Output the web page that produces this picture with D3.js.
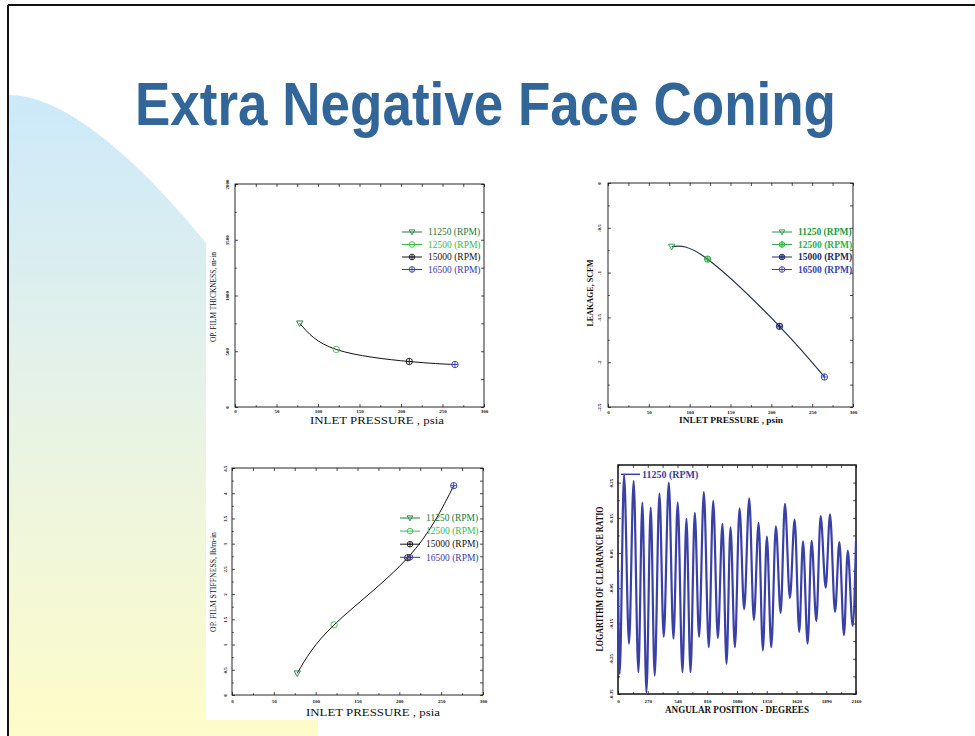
<!DOCTYPE html>
<html>
<head>
<meta charset="utf-8">
<script src="https://cdn.jsdelivr.net/npm/d3@7"></script>
<style>
body { margin: 0; background: #fff; }
svg { display: block; }
</style>
</head>
<body>
<svg id="slide" width="975" height="736"></svg>
<script>
// ---- data ----
var rpmLabels = ['11250 (RPM)', '12500 (RPM)', '15000 (RPM)', '16500 (RPM)'];
var inletPressure = [78, 122, 210, 265];
var filmThickness = [750, 516, 408, 381];
var leakage = [-0.71, -0.85, -1.60, -2.165];
var filmStiffness = [0.43, 1.39, 2.72, 4.15];

var angularPosition = [0, 15, 55, 100, 142, 185, 221, 258, 297, 333, 376, 415, 461, 503, 542, 585,
  621, 658, 697, 736, 779, 824, 864, 906, 948, 985, 1021, 1061, 1103, 1145, 1191, 1233, 1276,
  1315, 1351, 1391, 1433, 1476, 1515, 1560, 1603, 1645, 1679, 1721, 1757, 1800, 1839, 1885,
  1924, 1970, 2009, 2051, 2085, 2130, 2160];
var clearanceLog = [0.002, -0.293, 0.272, -0.207, 0.255, -0.288, 0.193, -0.345, 0.179, -0.298,
  0.219, -0.188, 0.25, -0.193, 0.193, -0.288, 0.147, -0.288, 0.164, -0.188, 0.223, -0.217,
  0.198, -0.191, 0.133, -0.264, 0.123, -0.217, 0.177, -0.109, 0.205, -0.140, 0.136, -0.226,
  0.097, -0.217, 0.126, -0.120, 0.190, -0.077, 0.145, -0.174, 0.083, -0.207, 0.085, -0.143,
  0.155, -0.048, 0.160, -0.117, 0.081, -0.183, 0.057, -0.157, 0.085];

var pressureTicks = [0, 50, 100, 150, 200, 250, 300];
var thicknessTicks = [0, 500, 1000, 1500, 2000];
var leakageTicks = [0, -0.5, -1, -1.5, -2, -2.5];
var stiffnessTicks = [0, 0.5, 1, 1.5, 2, 2.5, 3, 3.5, 4, 4.5];
var angleTicks = [0, 270, 540, 810, 1080, 1350, 1620, 1890, 2160];
var clearanceTicks = [-0.35, -0.25, -0.15, -0.05, 0.05, 0.15, 0.25];

var svg = d3.select('#slide');
var serif = '"Liberation Serif", "Times New Roman", serif';

// ---- slide background ----
var defs = svg.append('defs');
var grad = defs.append('linearGradient').attr('id', 'bg').attr('gradientUnits', 'userSpaceOnUse')
  .attr('x1', 0).attr('y1', 95).attr('x2', 0).attr('y2', 736);
grad.append('stop').attr('offset', '0').attr('stop-color', '#cce9fa');
grad.append('stop').attr('offset', '0.45').attr('stop-color', '#e5f2e8');
grad.append('stop').attr('offset', '1').attr('stop-color', '#fefcc8');

svg.append('path')
  .attr('d', 'M9,95 C60,95 140,150 250,300 L318,400 L318,736 L9,736 Z')
  .attr('fill', 'url(#bg)');
svg.append('rect').attr('x', 206).attr('y', 160).attr('width', 330).attr('height', 560).attr('fill', '#fff');

svg.append('line').attr('x1', 8).attr('x2', 975).attr('y1', 5).attr('y2', 5).attr('stroke', '#111').attr('stroke-width', 2);
svg.append('line').attr('x1', 8).attr('x2', 8).attr('y1', 5).attr('y2', 736).attr('stroke', '#111').attr('stroke-width', 2);

svg.append('text')
  .attr('x', 135).attr('y', 125)
  .attr('textLength', 701).attr('lengthAdjust', 'spacingAndGlyphs')
  .style('font-family', '"Liberation Sans", Arial, sans-serif')
  .style('font-weight', 'bold').style('font-size', '62px')
  .attr('fill', '#326699')
  .text('Extra Negative Face Coning');

// ---- helpers ----
var midpoints = function(arr) {
  var out = [];
  for (var i = 1; i < arr.length; i++) out.push((arr[i - 1] + arr[i]) / 2);
  return out;
};

var marker = function(g, kind, cx, cy, color, r) {
  var m = g.append('g').attr('transform', 'translate(' + cx + ',' + cy + ')')
    .attr('fill', 'none').attr('stroke', color).attr('stroke-width', 0.9);
  if (kind === 'tri') {
    m.append('path').attr('d', 'M' + (-r) + ',' + (-r * 0.75) + 'L' + r + ',' + (-r * 0.75) + 'L0,' + r + 'Z');
  } else {
    var c = m.append('circle').attr('r', r);
    if (kind === 'dot') c.attr('fill', color).attr('fill-opacity', 0.45);
    if (kind === 'plus' || kind === 'dot') {
      m.append('path').attr('d', 'M' + (-r) + ',0H' + r + 'M0,' + (-r) + 'V' + r);
    }
  }
};

var panel = function(o) {
  var x = d3.scaleLinear().domain(o.xDomain).range([o.l, o.r]);
  var y = d3.scaleLinear().domain(o.yDomain).range([o.b, o.t]);
  var g = svg.append('g');
  var tick = o.tick || 3;

  g.append('g').attr('transform', 'translate(0,' + o.b + ')')
    .call(d3.axisBottom(x).tickValues(o.xTicks).tickSizeInner(-tick).tickSizeOuter(0)
      .tickPadding(o.xPad).tickFormat(function(d) { return String(d); }));
  g.append('g').attr('transform', 'translate(0,' + o.b + ')')
    .call(d3.axisBottom(x).tickValues(midpoints(o.xTicks)).tickSizeInner(-tick * 0.6).tickSizeOuter(0).tickFormat(''));
  g.append('g').attr('transform', 'translate(0,' + o.t + ')')
    .call(d3.axisTop(x).tickValues(o.xTicks.concat(midpoints(o.xTicks))).tickSizeInner(-tick).tickSizeOuter(0).tickFormat(''));
  var left = g.append('g').attr('transform', 'translate(' + o.l + ',0)')
    .call(d3.axisLeft(y).tickValues(o.yTicks).tickSizeInner(-tick).tickSizeOuter(0)
      .tickFormat(function(d) { return String(d); }));
  g.append('g').attr('transform', 'translate(' + o.l + ',0)')
    .call(d3.axisLeft(y).tickValues(midpoints(o.yTicks)).tickSizeInner(-tick * 0.6).tickSizeOuter(0).tickFormat(''));
  g.append('g').attr('transform', 'translate(' + o.r + ',0)')
    .call(d3.axisRight(y).tickValues(o.yTicks.concat(midpoints(o.yTicks))).tickSizeInner(-tick).tickSizeOuter(0).tickFormat(''));
  if (o.yMinor) {
    g.append('g').attr('transform', 'translate(' + o.l + ',0)')
      .call(d3.axisLeft(y).tickValues(o.yMinor).tickSizeInner(-tick * 0.6).tickSizeOuter(0).tickFormat(''));
  }

  g.selectAll('.domain').remove();
  g.selectAll('.tick line').attr('stroke', '#222').attr('stroke-width', 0.8);
  g.selectAll('.tick text').attr('fill', '#111')
    .style('font-family', serif).style('font-weight', 'bold').style('font-size', o.tickFont + 'px');
  left.selectAll('.tick text')
    .attr('transform', 'rotate(-90)').attr('x', 0).attr('y', -o.yPad).attr('dy', 0)
    .attr('text-anchor', 'middle');

  g.append('rect').attr('x', o.l).attr('y', o.t).attr('width', o.r - o.l).attr('height', o.b - o.t)
    .attr('fill', 'none').attr('stroke', '#111').attr('stroke-width', o.frameWidth || 0.9);

  g.append('text')
    .attr('x', o.xTitle.cx).attr('y', o.xTitle.y).attr('text-anchor', 'middle')
    .attr('textLength', o.xTitle.w).attr('lengthAdjust', 'spacingAndGlyphs')
    .style('font-family', serif).style('font-size', o.xTitle.size + 'px')
    .style('font-weight', o.bold ? 'bold' : 'normal').attr('fill', '#111')
    .text(o.xTitle.text);
  g.append('text')
    .attr('transform', 'translate(' + o.yTitle.x + ',' + o.yTitle.cy + ') rotate(-90)')
    .attr('text-anchor', 'middle')
    .attr('textLength', o.yTitle.w).attr('lengthAdjust', 'spacingAndGlyphs')
    .style('font-family', serif).style('font-size', o.yTitle.size + 'px')
    .style('font-weight', o.bold ? 'bold' : 'normal').attr('fill', '#111')
    .text(o.yTitle.text);

  return { g: g, x: x, y: y };
};

var seriesPanel = function(o, ys) {
  var p = panel(o);
  var pts = d3.zip(inletPressure, ys);
  var line = d3.line().x(function(d) { return p.x(d[0]); }).y(function(d) { return p.y(d[1]); })
    .curve(d3.curveNatural);
  p.g.append('path').attr('d', line(pts)).attr('fill', 'none')
    .attr('stroke', o.lineColor).attr('stroke-width', o.lineWidth);
  pts.forEach(function(d, i) {
    marker(p.g, o.shapes[i], p.x(d[0]), p.y(d[1]), o.colors[i], 3.2);
  });
  rpmLabels.forEach(function(lab, i) {
    var ly = o.leg.y + i * o.leg.dy;
    p.g.append('line').attr('x1', o.leg.x).attr('x2', o.leg.x + 20).attr('y1', ly).attr('y2', ly)
      .attr('stroke', o.colors[i]).attr('stroke-width', 1);
    marker(p.g, o.shapes[i], o.leg.x + 10, ly, o.colors[i], 2.8);
    p.g.append('text').attr('x', o.leg.x + 26).attr('y', ly + 3.2)
      .style('font-family', serif).style('font-size', o.leg.size + 'px')
      .style('font-weight', o.bold ? 'bold' : 'normal')
      .attr('fill', o.colors[i]).text(lab);
  });
};

// ---- top-left: film thickness ----
seriesPanel({
  l: 235, r: 484, t: 184, b: 407,
  xDomain: [0, 300], yDomain: [0, 2000], xTicks: pressureTicks, yTicks: thicknessTicks,
  xPad: 2.5, yPad: 6.5, tickFont: 5,
  xTitle: { text: 'INLET PRESSURE , psia', cx: 377, y: 424, w: 134, size: 10 },
  yTitle: { text: 'OP. FILM THICKNESS, m-in', x: 216, cy: 297, w: 90, size: 9 },
  lineColor: '#111', lineWidth: 1,
  colors: ['#1e7a3c', '#3dbb47', '#151515', '#3a3aa8'],
  shapes: ['tri', 'circle', 'plus', 'plus'],
  leg: { x: 402, y: 232, dy: 12.5, size: 9.5 }
}, filmThickness);

// ---- top-right: leakage ----
seriesPanel({
  l: 608, r: 853, t: 183, b: 407,
  xDomain: [0, 300], yDomain: [-2.5, 0], xTicks: pressureTicks, yTicks: leakageTicks,
  xPad: 3, yPad: 7, tickFont: 5, bold: true,
  xTitle: { text: 'INLET PRESSURE , psin', cx: 731, y: 423, w: 104, size: 9 },
  yTitle: { text: 'LEAKAGE, SCFM', x: 593, cy: 293, w: 67, size: 9 },
  lineColor: '#263646', lineWidth: 1.2,
  colors: ['#1c9a3e', '#2fb04a', '#1c2a6e', '#3444b4'],
  shapes: ['tri', 'dot', 'dot', 'plus'],
  leg: { x: 772, y: 232, dy: 12.5, size: 9.5 }
}, leakage);

// ---- bottom-left: film stiffness ----
seriesPanel({
  l: 232, r: 483, t: 468, b: 695,
  xDomain: [0, 300], yDomain: [0, 4.5], xTicks: pressureTicks, yTicks: stiffnessTicks,
  xPad: 4.5, yPad: 5.5, tickFont: 5,
  xTitle: { text: 'INLET PRESSURE , psia', cx: 373, y: 716, w: 134, size: 10 },
  yTitle: { text: 'OP. FILM STIFFNESS, lb/m-in', x: 216, cy: 582, w: 100, size: 9 },
  lineColor: '#111', lineWidth: 1,
  colors: ['#1e7a3c', '#3dbb47', '#151515', '#3a3aa8'],
  shapes: ['tri', 'circle', 'plus', 'plus'],
  leg: { x: 400, y: 518, dy: 13.1, size: 9.5 }
}, filmStiffness);

// ---- bottom-right: clearance ratio ----
var p4 = panel({
  l: 618, r: 856, t: 465, b: 694,
  xDomain: [0, 2160], yDomain: [-0.35, 0.30], xTicks: angleTicks, yTicks: clearanceTicks,
  yMinor: [-0.30, 0.30],
  xPad: 5, yPad: 5.5, tickFont: 5, bold: true, frameWidth: 1.5,
  xTitle: { text: 'ANGULAR POSITION - DEGREES', cx: 737, y: 713, w: 144, size: 9.5 },
  yTitle: { text: 'LOGARITHM OF CLEARANCE RATIO', x: 603, cy: 579, w: 145, size: 10 }
});
var wave = d3.line()
  .x(function(d) { return p4.x(d[0]); })
  .y(function(d) { return p4.y(d[1]); })
  .curve(d3.curveMonotoneX);
p4.g.append('path').attr('d', wave(d3.zip(angularPosition, clearanceLog)))
  .attr('fill', 'none').attr('stroke', '#3a40a6').attr('stroke-width', 2.2)
  .attr('stroke-linejoin', 'round');
p4.g.append('line').attr('x1', 621).attr('x2', 640).attr('y1', 474.3).attr('y2', 474.3)
  .attr('stroke', '#3a40a6').attr('stroke-width', 1.5);
p4.g.append('text').attr('x', 642).attr('y', 477.8)
  .style('font-family', serif).style('font-weight', 'bold').style('font-size', '10px')
  .attr('fill', '#3a40a6').text('11250 (RPM)');
</script>
</body>
</html>
